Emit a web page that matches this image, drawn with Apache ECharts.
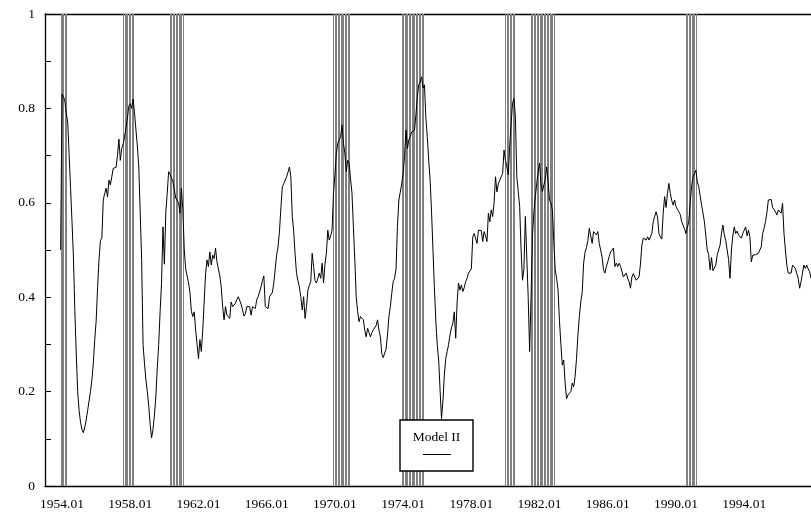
<!DOCTYPE html>
<html>
<head>
<meta charset="utf-8">
<script src="https://cdn.jsdelivr.net/npm/echarts@6/dist/echarts.min.js"></script>
<style>
html,body{margin:0;padding:0;background:#fff;}
#chart{width:811px;height:512px;}
</style>
</head>
<body>
<div id="chart"></div>
<script>
// Monthly category axis 1953.01 .. 1997.12
const firstYear = 1953;
const lastYear = 1997;
const months = [];
for (let y = firstYear; y <= lastYear; y++) {
  for (let m = 1; m <= 12; m++) months.push(y + '.' + (m < 10 ? '0' + m : m));
}

const seriesName = 'Model II';
const seriesStart = '1953.12';
// Model II values, monthly from 1953.12
const modelII = [
  0.50,
  0.83, 0.825, 0.815, 0.79, 0.77, 0.70, 0.63, 0.56, 0.485, 0.37, 0.28, 0.20,
  0.16, 0.135, 0.12, 0.113, 0.125, 0.14, 0.16, 0.18, 0.20, 0.225, 0.26, 0.31,
  0.35, 0.42, 0.48, 0.52, 0.525, 0.606, 0.62, 0.631, 0.612, 0.648, 0.638, 0.655,
  0.673, 0.671, 0.675, 0.70, 0.735, 0.69, 0.715, 0.725, 0.74, 0.76, 0.78, 0.805,
  0.81, 0.80, 0.82, 0.79, 0.754, 0.72, 0.676, 0.58, 0.48, 0.30, 0.26, 0.225,
  0.20, 0.17, 0.13, 0.102, 0.12, 0.15, 0.189, 0.25, 0.30, 0.37, 0.43, 0.549,
  0.47, 0.58, 0.62, 0.666, 0.66, 0.659, 0.645, 0.642, 0.61, 0.606, 0.60, 0.578,
  0.631, 0.585, 0.50, 0.46, 0.445, 0.43, 0.41, 0.37, 0.359, 0.369, 0.33, 0.30,
  0.27, 0.31, 0.285, 0.33, 0.39, 0.45, 0.479, 0.465, 0.496, 0.468, 0.489, 0.482,
  0.504, 0.475, 0.472, 0.445, 0.422, 0.38, 0.352, 0.38, 0.362, 0.36, 0.355, 0.39,
  0.38, 0.383, 0.387, 0.395, 0.401, 0.397, 0.385, 0.373, 0.36, 0.365, 0.38, 0.38,
  0.38, 0.362, 0.38, 0.378, 0.376, 0.395, 0.401, 0.397, 0.422, 0.435, 0.445, 0.38,
  0.378, 0.376, 0.401, 0.397, 0.41, 0.43, 0.46, 0.49, 0.507, 0.54, 0.59, 0.634,
  0.641, 0.645, 0.655, 0.665, 0.676, 0.655, 0.571, 0.54, 0.49, 0.45, 0.435, 0.422,
  0.401, 0.373, 0.401, 0.355, 0.38, 0.415, 0.425, 0.433, 0.493, 0.465, 0.435, 0.43,
  0.44, 0.451, 0.44, 0.472, 0.43, 0.47, 0.493, 0.542, 0.521, 0.53, 0.542, 0.62,
  0.66, 0.705, 0.726, 0.722, 0.74, 0.765, 0.726, 0.705, 0.666, 0.69, 0.684, 0.65,
  0.621, 0.549, 0.479, 0.40, 0.37, 0.348, 0.359, 0.355, 0.352, 0.33, 0.316, 0.334,
  0.325, 0.316, 0.325, 0.331, 0.334, 0.34, 0.352, 0.33, 0.316, 0.28, 0.272, 0.27,
  0.29, 0.32, 0.359, 0.38, 0.408, 0.433, 0.44, 0.46, 0.55, 0.606, 0.61, 0.64,
  0.662, 0.70, 0.754, 0.715, 0.733, 0.74, 0.75, 0.752, 0.754, 0.786, 0.825, 0.85,
  0.855, 0.867, 0.843, 0.85, 0.78, 0.74, 0.69, 0.648, 0.58, 0.50, 0.42, 0.35,
  0.30, 0.267, 0.203, 0.143, 0.18, 0.235, 0.27, 0.285, 0.30, 0.32, 0.335, 0.345,
  0.369, 0.313, 0.39, 0.43, 0.415, 0.426, 0.412, 0.42, 0.433, 0.44, 0.451, 0.455,
  0.46, 0.528, 0.535, 0.539, 0.514, 0.542, 0.54, 0.541, 0.518, 0.539, 0.53, 0.518,
  0.578, 0.56, 0.585, 0.571, 0.60, 0.655, 0.623, 0.64, 0.648, 0.655, 0.662, 0.712,
  0.69, 0.676, 0.659, 0.72, 0.768, 0.811, 0.821, 0.782, 0.655, 0.624, 0.592, 0.50,
  0.436, 0.46, 0.571, 0.571, 0.40, 0.285, 0.40, 0.53, 0.58, 0.613, 0.64, 0.665,
  0.684, 0.64, 0.624, 0.62, 0.65, 0.676, 0.645, 0.606, 0.60, 0.585, 0.52, 0.458,
  0.44, 0.415, 0.35, 0.30, 0.256, 0.267, 0.218, 0.185, 0.193, 0.189, 0.20, 0.218,
  0.21, 0.232, 0.27, 0.32, 0.359, 0.39, 0.41, 0.472, 0.495, 0.505, 0.52, 0.546,
  0.53, 0.514, 0.539, 0.535, 0.532, 0.539, 0.514, 0.50, 0.485, 0.458, 0.451, 0.465,
  0.475, 0.486, 0.496, 0.50, 0.504, 0.465, 0.472, 0.465, 0.472, 0.465, 0.468, 0.443,
  0.445, 0.451, 0.44, 0.433, 0.419, 0.443, 0.45, 0.454, 0.436, 0.433, 0.443, 0.47,
  0.51, 0.525, 0.525, 0.521, 0.528, 0.521, 0.521, 0.535, 0.56, 0.571, 0.581, 0.57,
  0.535, 0.528, 0.523, 0.578, 0.613, 0.59, 0.62, 0.641, 0.62, 0.605, 0.595, 0.606,
  0.592, 0.592, 0.581, 0.575, 0.56, 0.56, 0.545, 0.535, 0.532, 0.56, 0.60, 0.635,
  0.655, 0.655, 0.669, 0.645, 0.634, 0.615, 0.595, 0.578, 0.56, 0.53, 0.50, 0.49,
  0.458, 0.484, 0.456, 0.454, 0.468, 0.49, 0.50, 0.51, 0.535, 0.553, 0.532, 0.52,
  0.50, 0.48, 0.44, 0.50, 0.53, 0.549, 0.535, 0.54, 0.532, 0.535, 0.525, 0.535,
  0.542, 0.549, 0.53, 0.542, 0.528, 0.475, 0.489, 0.489, 0.49, 0.493, 0.493, 0.493,
  0.507, 0.535, 0.546, 0.56, 0.58, 0.606, 0.61, 0.607, 0.59, 0.588, 0.581, 0.574,
  0.585, 0.588, 0.578, 0.599, 0.535, 0.50, 0.468, 0.451, 0.455, 0.451, 0.468, 0.465,
  0.461, 0.461, 0.44, 0.419, 0.433, 0.451, 0.468, 0.461, 0.468, 0.46, 0.454, 0.44
];

// Recession months (start, end inclusive)
const recessions = [
  ['1953.12', '1954.04'],
  ['1957.08', '1958.03'],
  ['1960.05', '1961.02'],
  ['1969.12', '1970.11'],
  ['1973.12', '1975.03'],
  ['1980.01', '1980.07'],
  ['1981.07', '1982.11'],
  ['1990.08', '1991.03']
];

// Tick labels on x axis
const xTickLabels = ['1954.01','1958.01','1962.01','1966.01','1970.01','1974.01','1978.01','1982.01','1986.01','1990.01','1994.01'];

const startIdx = months.indexOf(seriesStart);
const lineData = months.map((m, i) => (i >= startIdx && i - startIdx < modelII.length) ? modelII[i - startIdx] : '-');
const recessionData = [];
months.forEach((m, i) => { if (recessions.some(r => m >= r[0] && m <= r[1])) recessionData.push([i, 1]); });

const font = 'Liberation Serif';
const chart = echarts.init(document.getElementById('chart'), null, {renderer: 'canvas'});
chart.setOption({
  animation: false,
  backgroundColor: '#fff',
  grid: {left: 45, right: 0, top: 14, bottom: 26, containLabel: false},
  xAxis: [{
    type: 'category',
    data: months,
    boundaryGap: false,
    axisLine: {lineStyle: {color: '#000', width: 1.3}},
    axisTick: {show: false},
    splitLine: {show: false},
    axisLabel: {
      interval: (idx, val) => xTickLabels.indexOf(val) >= 0,
      color: '#000', fontFamily: font, fontSize: 13.5, margin: 11
    }
  }, {
    type: 'category',
    data: months,
    boundaryGap: false,
    position: 'top',
    axisLine: {lineStyle: {color: '#000', width: 1.3}},
    axisTick: {show: false},
    axisLabel: {show: false},
    splitLine: {show: false}
  }],
  yAxis: {
    type: 'value',
    min: 0, max: 1, interval: 0.1,
    axisLine: {show: true, lineStyle: {color: '#000', width: 1.3}},
    axisTick: {show: true, inside: true, length: 6, lineStyle: {color: '#000', width: 1}},
    splitLine: {show: false},
    axisLabel: {
      color: '#000', fontFamily: font, fontSize: 13.5, margin: 10,
      formatter: v => (Math.round(v * 10) % 2 === 0) ? String(+v.toFixed(1)) : ''
    }
  },
  series: [{
    name: 'Recession',
    type: 'custom',
    data: recessionData,
    silent: true,
    z: 1,
    renderItem: function (params, api) {
      const top = api.coord([api.value(0), api.value(1)]);
      const bottom = api.coord([api.value(0), 0]);
      const x = Math.round(top[0]) + 0.5;
      return {
        type: 'line',
        shape: {x1: x, y1: top[1], x2: x, y2: bottom[1]},
        style: {stroke: '#808080', lineWidth: 1}
      };
    }
  }, {
    name: seriesName,
    type: 'line',
    data: lineData,
    showSymbol: false,
    symbol: 'none',
    connectNulls: false,
    lineStyle: {color: '#000', width: 1},
    z: 3
  }],
  graphic: [{
    type: 'rect', z: 100,
    shape: {x: 400, y: 420, width: 73, height: 51},
    style: {fill: '#fff', stroke: '#000', lineWidth: 1.4}
  }, {
    type: 'text', z: 101,
    x: 436.5, y: 437,
    style: {text: seriesName, fontFamily: font, fontSize: 13.5, fill: '#000',
            align: 'center', verticalAlign: 'middle', textAlign: 'center', textVerticalAlign: 'middle'}
  }, {
    type: 'line', z: 101,
    shape: {x1: 423, y1: 454.5, x2: 451, y2: 454.5},
    style: {stroke: '#000', lineWidth: 1}
  }]
});
</script>
</body>
</html>
